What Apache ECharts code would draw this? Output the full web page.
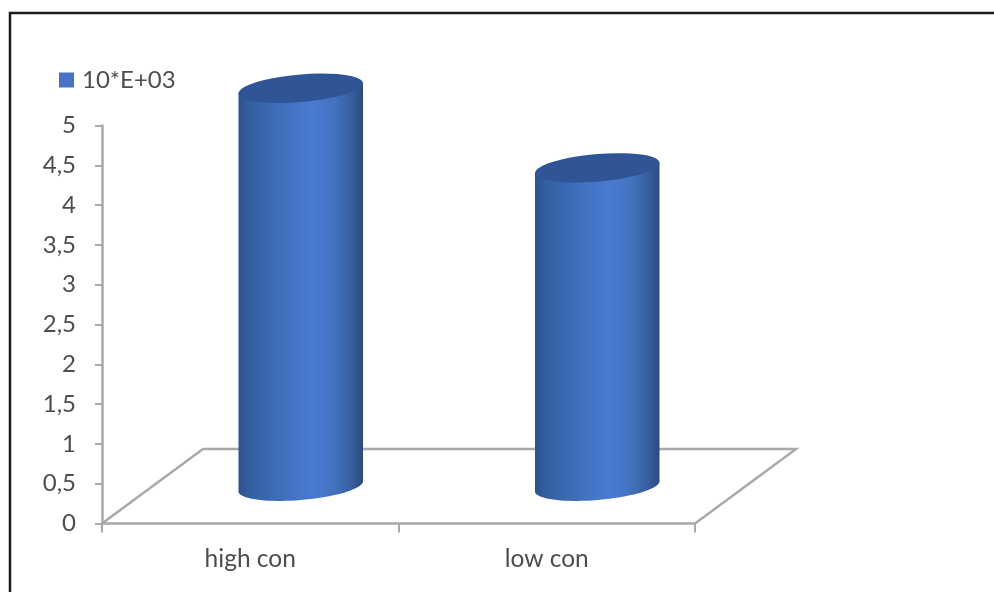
<!DOCTYPE html>
<html>
<head>
<meta charset="utf-8">
<style>html,body{margin:0;padding:0;background:#fff}#chart{width:994px;height:592px}</style>
<script src="https://cdn.jsdelivr.net/npm/echarts@6/dist/echarts.min.js"></script>
</head>
<body>
<div id="chart"></div>
<script>
// Chart contents
const categories = ['high con', 'low con'];
const seriesName = '10*E+03';
const values = [5, 4];
const tickStep = 0.5;
const axisMax = 5;

// Oblique floor projection, in pixels
const DEPTH_X = 101;
const DEPTH_Y = 74.5;
const BAR_WIDTH_SHARE = 0.42;
const TILT = 0.082;   // slope of the cylinder's ellipses
const MINOR = 13.8;   // half height of the ellipses

const font = 'Lato, "Liberation Sans", sans-serif';
const textColor = '#4d4d4d';
const axisColor = '#a9a9a9';

// Points of a tilted ellipse between two angles
function arc(cx, cy, rx, from, to) {
  const pts = [];
  const n = 40;
  for (let i = 0; i <= n; i++) {
    const t = from + (to - from) * i / n;
    const dx = rx * Math.cos(t);
    const dy = MINOR * Math.sin(t);
    pts.push([cx + dx, cy + dy - dx * TILT]);
  }
  return pts;
}

function renderFloor(params, api) {
  const g = params.coordSys;
  const bottom = g.y + g.height;
  return {
    type: 'polyline',
    shape: {
      points: [
        [g.x, bottom],
        [g.x + DEPTH_X, bottom - DEPTH_Y],
        [g.x + g.width + DEPTH_X, bottom - DEPTH_Y],
        [g.x + g.width, bottom]
      ]
    },
    style: { fill: null, stroke: axisColor, lineWidth: 2.5 }
  };
}

function renderCylinder(params, api) {
  const base = api.coord([api.value(0), 0]);
  const top = api.coord([api.value(0), api.value(1)]);
  const rx = api.size([1, 0])[0] * BAR_WIDTH_SHARE / 2;
  const cx = base[0] + DEPTH_X / 2;
  const baseY = base[1] - DEPTH_Y / 2;
  const topY = top[1] - DEPTH_Y / 2;
  // Side wall: top edge, then the lower half of the base ellipse
  const wall = [[cx - rx, topY + rx * TILT]]
    .concat([[cx + rx, topY - rx * TILT]])
    .concat(arc(cx, baseY, rx, 0, Math.PI));
  return {
    type: 'group',
    children: [
      {
        type: 'polygon',
        shape: { points: wall },
        style: {
          fill: {
            type: 'linear', x: 0, y: 0, x2: 1, y2: 0,
            colorStops: [
              { offset: 0, color: '#2d5292' },
              { offset: 0.1, color: '#33609f' },
              { offset: 0.32, color: '#3f6eb9' },
              { offset: 0.6, color: '#4a7bd2' },
              { offset: 0.78, color: '#4271bd' },
              { offset: 0.9, color: '#38609f' },
              { offset: 1, color: '#2b4a80' }
            ]
          }
        }
      },
      {
        type: 'polygon',
        shape: { points: arc(cx, topY, rx, 0, Math.PI * 2) },
        style: { fill: '#2f5596' }
      }
    ]
  };
}

const chart = echarts.init(document.getElementById('chart'));
chart.setOption({
  animation: false,
  backgroundColor: '#fff',
  grid: { left: 102, right: 299, top: 125.5, bottom: 68.5 },
  legend: {
    data: [seriesName],
    left: 54,
    top: 63,
    icon: 'rect',
    itemWidth: 15,
    itemHeight: 15,
    itemGap: 6,
    textStyle: { fontFamily: font, fontSize: 24, color: textColor, padding: [0, 0, 0, 3] }
  },
  xAxis: {
    type: 'category',
    data: categories,
    axisLine: { lineStyle: { color: axisColor, width: 2.5 } },
    axisTick: { show: true, length: 9, alignWithLabel: false, lineStyle: { color: axisColor, width: 2 } },
    axisLabel: { fontFamily: font, fontSize: 24.5, color: textColor, margin: 23 },
    splitLine: { show: false }
  },
  yAxis: {
    type: 'value',
    min: 0,
    max: axisMax,
    interval: tickStep,
    axisLine: { show: true, lineStyle: { color: axisColor, width: 2.5 } },
    axisTick: { show: true, length: 7, lineStyle: { color: axisColor, width: 2 } },
    axisLabel: {
      fontFamily: font, fontSize: 24, color: textColor, margin: 26,
      formatter: v => String(v).replace('.', ',')
    },
    splitLine: { show: false }
  },
  series: [
    {
      name: 'floor',
      type: 'custom',
      renderItem: renderFloor,
      data: [[0, 0]],
      silent: true,
      clip: false,
      z: 1
    },
    {
      name: seriesName,
      type: 'custom',
      renderItem: renderCylinder,
      itemStyle: { color: '#4472c4' },
      encode: { x: 0, y: 1 },
      data: categories.map((c, i) => [i, values[i]]),
      clip: false,
      z: 3
    }
  ],
  // Black frame running off the top and right of the page
  graphic: [{
    type: 'rect',
    shape: { x: 10, y: 13, width: 1100, height: 700 },
    style: { fill: null, stroke: '#1a1a1a', lineWidth: 2.5 },
    silent: true
  }]
});
</script>
</body>
</html>
